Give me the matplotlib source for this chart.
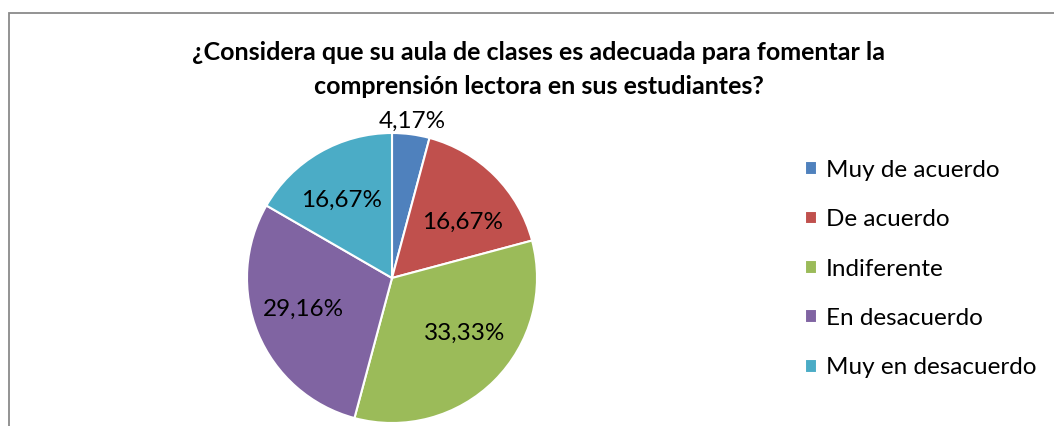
import numpy as np
import matplotlib
matplotlib.use("Agg")
import matplotlib.pyplot as plt
from matplotlib.patches import Rectangle

# data
categories = ["Muy de acuerdo", "De acuerdo", "Indiferente", "En desacuerdo", "Muy en desacuerdo"]
values = [4.17, 16.67, 33.33, 29.16, 16.67]
labels = ["4,17%", "16,67%", "33,33%", "29,16%", "16,67%"]
colors = ["#4F81BD", "#C0504D", "#9BBB59", "#8064A2", "#4BACC6"]

plt.rcParams['font.family'] = ['Lato', 'DejaVu Sans']

W, H = 1054, 426
fig = plt.figure(figsize=(W / 100, H / 100), dpi=100)

# chart border (runs off the right and bottom edges)
fig.patches.append(Rectangle((9 / W, -0.1), 1.2, 1 - 13 / H + 0.1, transform=fig.transFigure,
                             fill=False, edgecolor="#8a8a8a", linewidth=1.3))

cx, cy, r = 392, 278, 145
ax = fig.add_axes([(cx - r) / W, (H - cy - r) / H, 2 * r / W, 2 * r / H])
wedges, _ = ax.pie(values, colors=colors, startangle=90, counterclock=False, radius=1,
                   wedgeprops=dict(edgecolor="white", linewidth=1.5))
ax.set_xlim(-1, 1)
ax.set_ylim(-1, 1)
ax.set_aspect("equal")
ax.axis("off")

# data labels (small angle nudges like Excel's best-fit placement)
nudge = [0, -7, 8, -3, 3]
dist = [1.09, 0.62, 0.63, 0.65, 0.64]
for i, w in enumerate(wedges):
    mid = np.deg2rad((w.theta1 + w.theta2) / 2 + nudge[i])
    ax.text(dist[i] * np.cos(mid), dist[i] * np.sin(mid), labels[i], ha="center", va="center",
            fontsize=17.5, color="black", clip_on=False)

fig.text(539 / W, 1 - 52 / H, "¿Considera que su aula de clases es adecuada para fomentar la",
         ha="center", va="center", fontsize=18, fontweight="bold")
fig.text(539 / W, 1 - 86 / H, "comprensión lectora en sus estudiantes?",
         ha="center", va="center", fontsize=18, fontweight="bold")

fig.legend(wedges, categories, loc="upper left", bbox_to_anchor=(795 / W, 1 - 150 / H),
           frameon=False, fontsize=17.5, handlelength=0.5, handleheight=0.5,
           handletextpad=0.37, labelspacing=1.17, borderaxespad=0)

fig.savefig("out.png", dpi=100)
